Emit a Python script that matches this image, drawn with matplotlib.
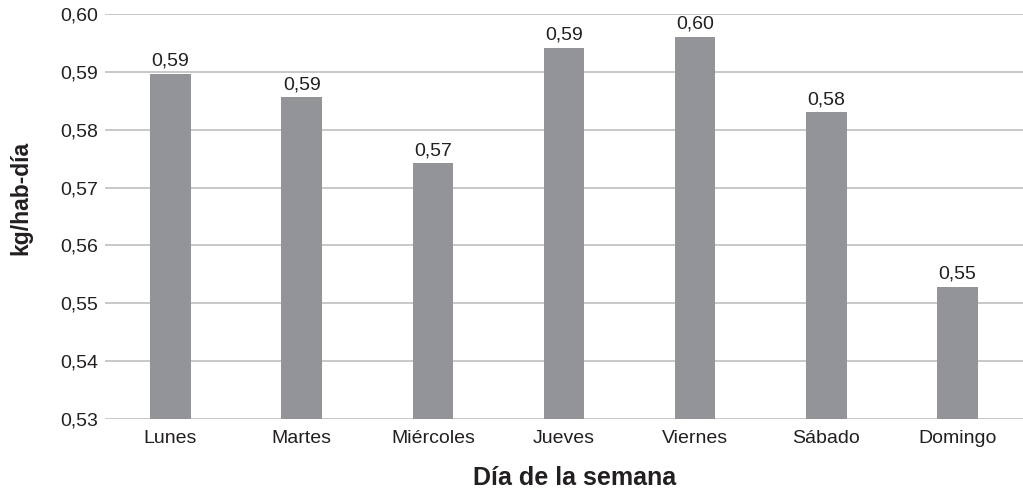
import matplotlib
matplotlib.use("Agg")
import matplotlib.pyplot as plt

plt.rcParams['font.family'] = ['Liberation Sans', 'DejaVu Sans']

dias = ["Lunes", "Martes", "Miércoles", "Jueves", "Viernes", "Sábado", "Domingo"]
kg_hab_dia = [0.5896, 0.5856, 0.5742, 0.5941, 0.5960, 0.5830, 0.5529]
yticks = [0.53, 0.54, 0.55, 0.56, 0.57, 0.58, 0.59, 0.60]

txt = "#231f20"
fig = plt.figure(figsize=(10.23, 4.94), dpi=100)
ax = fig.add_axes([0.1026, 0.1518, 0.8974, 0.8199])

x = range(len(dias))
ax.bar(x, [v - 0.53 for v in kg_hab_dia], bottom=0.53, width=0.31,
       color="#939497", zorder=3)

for xi, v in zip(x, kg_hab_dia):
    ax.annotate(f"{v:.2f}".replace(".", ","), (xi, v), xytext=(0, 3),
                textcoords="offset points", ha="center", va="bottom",
                fontsize=14, color=txt, zorder=4)

ax.set_xlim(-0.5, len(dias) - 0.5)
ax.set_ylim(0.53, 0.60)
ax.set_yticks(yticks)
ax.set_yticklabels([f"{t:.2f}".replace(".", ",") for t in yticks])
ax.set_xticks(list(x))
ax.set_xticklabels(dias)
ax.tick_params(axis="both", length=0, labelsize=14, labelcolor=txt)
ax.tick_params(axis="y", pad=5)
ax.tick_params(axis="x", pad=8)

ax.grid(axis="y", color="#c4c4c4", linewidth=1.3, zorder=0)
for s in ax.spines.values():
    s.set_visible(False)

fig.text(21 / 1023, 1 - 198 / 494, "kg/hab-día", rotation=90, ha="center",
         va="center", fontsize=16.5, fontweight="bold", color=txt)
fig.text(575 / 1023, 1 - 478 / 494, "Día de la semana", ha="center",
         va="center", fontsize=18, fontweight="bold", color=txt)

fig.savefig("out.png", dpi=100)
